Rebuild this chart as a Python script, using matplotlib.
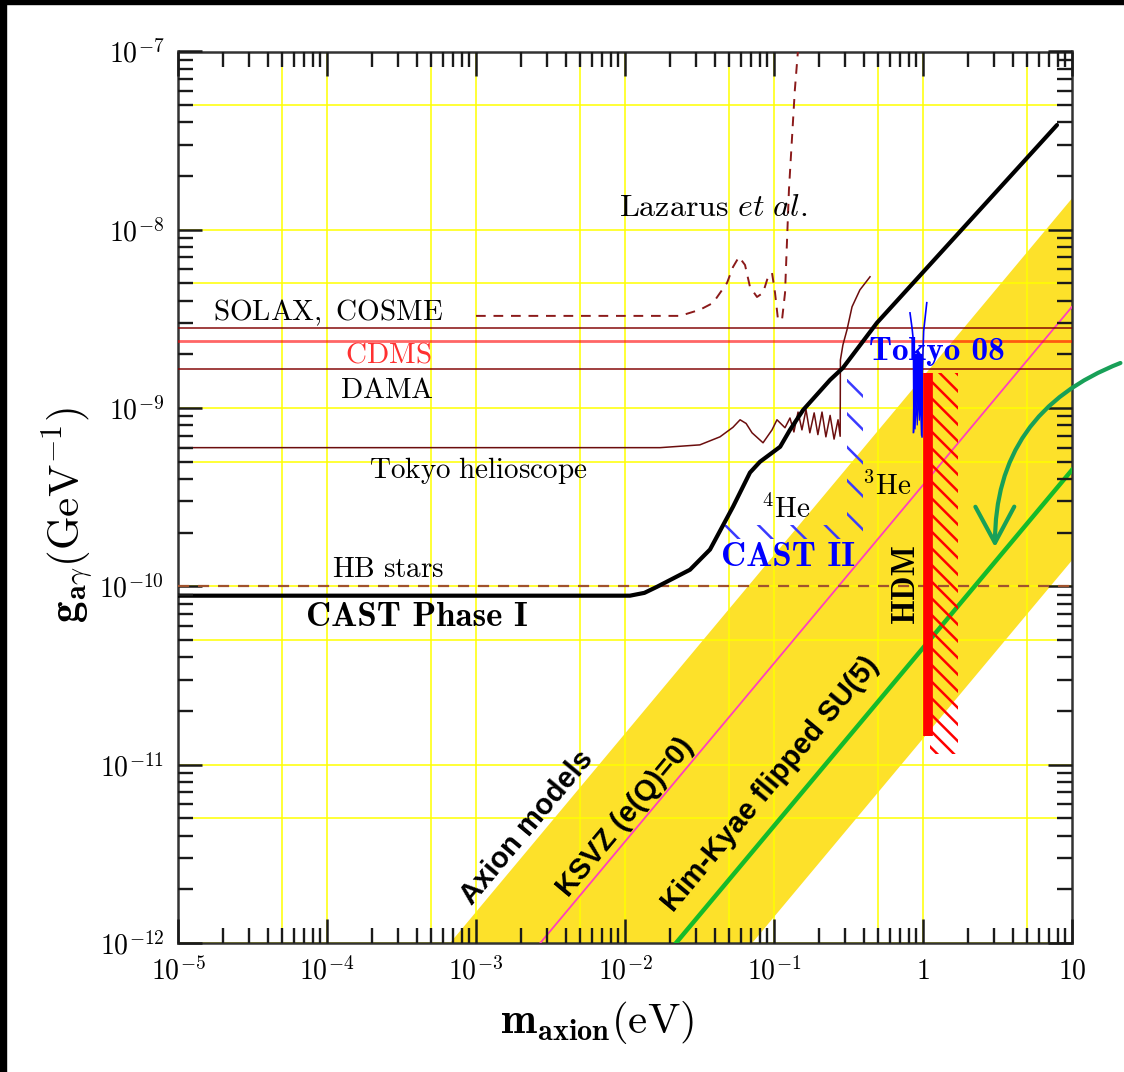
import numpy as np
import matplotlib.pyplot as plt
from matplotlib.patches import Rectangle
from matplotlib.ticker import FixedLocator, NullLocator

plt.rcParams['mathtext.fontset'] = 'cm'
plt.rcParams['hatch.linewidth'] = 1.8

# ---------------- data (m in eV, g in GeV^-1) ----------------
cast1_m = [1e-5, 0.0108, 0.0135, 0.0164, 0.0273, 0.0372, 0.0531, 0.069, 0.0805,
           0.110, 0.128, 0.157, 0.238, 0.290, 0.491, 7.93]
cast1_g = [8.87e-11, 8.87e-11, 9.2e-11, 9.95e-11, 1.24e-10, 1.61e-10, 2.80e-10, 4.35e-10,
           5.00e-10, 6.07e-10, 7.55e-10, 9.77e-10, 1.44e-9, 1.68e-9, 3.01e-9, 3.87e-8]

tokyo_m = [1e-5, 0.0172, 0.0318, 0.0434, 0.0530, 0.0592, 0.0650, 0.0712, 0.0844,
           0.0970, 0.1047, 0.1185, 0.128, 0.136, 0.145, 0.154, 0.164, 0.174, 0.186,
           0.197, 0.210, 0.223, 0.238, 0.253, 0.269, 0.278, 0.279, 0.290, 0.309,
           0.334, 0.377, 0.441]
tokyo_g = [6.0e-10, 6.0e-10, 6.22e-10, 6.9e-10, 7.8e-10, 8.6e-10, 8.2e-10, 7.27e-10,
           6.39e-10, 7.55e-10, 8.6e-10, 7.76e-10, 8.8e-10, 7.35e-10, 9.5e-10, 7.55e-10,
           9.8e-10, 7.27e-10, 9.4e-10, 7.1e-10, 9.5e-10, 6.9e-10, 9.1e-10, 6.7e-10,
           8.6e-10, 6.95e-10, 1.86e-9, 2.26e-9, 2.75e-9, 3.70e-9, 4.6e-9, 5.45e-9]

laz_m = [1e-3, 0.0234, 0.0318, 0.039, 0.0484, 0.0531, 0.0582, 0.0639, 0.069, 0.0769,
         0.0844, 0.0912, 0.097, 0.1016, 0.1064, 0.1132, 0.1186, 0.126, 0.138, 0.146]
laz_g = [3.29e-9, 3.29e-9, 3.56e-9, 3.89e-9, 5.04e-9, 6.19e-9, 7.05e-9, 6.35e-9,
         4.78e-9, 4.2e-9, 4.43e-9, 5.45e-9, 5.73e-9, 4.43e-9, 3.13e-9, 3.13e-9,
         4.43e-9, 1.68e-8, 6.08e-8, 1.1e-7]

solax_g = 2.82e-9
cdms_g = 2.38e-9
dama_g = 1.66e-9
hb_g = 1.0e-10

# axion model band (g proportional to m)
band_m = [6.7e-4, 10, 10, 0.0714]
band_g = [1e-12, 1.5e-8, 1.4e-10, 1e-12]
ksvz_m = [2.7e-3, 10]
ksvz_g = [1e-12, 3.7e-9]
kk_m = [0.022, 10]
kk_g = [1e-12, 4.5e-10]

# hot dark matter bound
hdm_m = 1.08
hdm_g = [1.45e-11, 1.58e-9]
hdm_hatch_m = [1.12, 1.72]
hdm_hatch_g = [1.15e-11, 1.58e-9]

# Tokyo 08
tk08_left_m = [0.818, 0.845, 0.87, 0.872, 0.862]
tk08_left_g = [3.42e-9, 2.8e-9, 2.2e-9, 1.3e-9, 7.3e-10]
tk08_right_m = [1.06, 1.01, 0.99, 0.985]
tk08_right_g = [3.9e-9, 2.7e-9, 1.6e-9, 6.9e-10]
tk08_fill_m = [0.86, 0.865, 0.875, 0.885, 0.90, 0.915, 0.93, 0.945, 0.96, 0.975, 0.985, 0.985, 0.86]
tk08_fill_g = [1.9e-9, 7.3e-10, 1.0e-9, 7.6e-10, 1.1e-9, 8.0e-10, 1.2e-9, 8.5e-10,
               1.1e-9, 7.0e-10, 1.0e-9, 2.0e-9, 2.0e-9]

# CAST II (4He / 3He) hatched limits
c2h_m = [0.0448, 0.333]
c2h_g = [1.85e-10, 2.2e-10]
c2v_m = [0.309, 0.395]
c2v_g = [1.85e-10, 1.45e-9]

xtick_vals = [1e-5, 1e-4, 1e-3, 1e-2, 1e-1, 1, 10]
xtick_labels = [r'$10^{-5}$', r'$10^{-4}$', r'$10^{-3}$', r'$10^{-2}$', r'$10^{-1}$', r'$1$', r'$10$']
ytick_vals = [1e-12, 1e-11, 1e-10, 1e-9, 1e-8, 1e-7]
ytick_labels = [r'$10^{-12}$', r'$10^{-11}$', r'$10^{-10}$', r'$10^{-9}$', r'$10^{-8}$', r'$10^{-7}$']

# ---------------- figure ----------------
W, H = 1124, 1072
fig = plt.figure(figsize=(W / 100, H / 100), dpi=100)
ax = fig.add_axes([178 / W, 1 - 943 / H, (1072 - 178) / W, (943 - 51.5) / H])
ax.set_xscale('log')
ax.set_yscale('log')
ax.set_xlim(1e-5, 10)
ax.set_ylim(1e-12, 1e-7)

# yellow grid at 1x and 5x each decade
for v in np.outer(10.0 ** np.arange(-5, 1), [1, 5]).ravel():
    ax.axvline(v, color='#ffff00', lw=1.1, zorder=1.2)
for v in np.outer(10.0 ** np.arange(-12, -7), [1, 5]).ravel():
    ax.axhline(v, color='#ffff00', lw=1.1, zorder=1.2)

# axion band and model lines
ax.fill(band_m, band_g, color='#fde12a', lw=0, zorder=1)
ax.plot(ksvz_m, ksvz_g, color='#ff3fbf', lw=1.3, zorder=3)
ax.plot(kk_m, kk_g, color='#14bb2a', lw=3.2, zorder=3)

# horizontal limits
ax.axhline(solax_g, color='#800000', alpha=0.75, lw=1.4, zorder=3)
ax.axhline(cdms_g, color='red', alpha=0.6, lw=2.0, zorder=3)
ax.axhline(dama_g, color='#800000', alpha=0.75, lw=1.4, zorder=3)
ax.axhline(hb_g, color='#a0522d', lw=1.6, ls=(0, (5, 4)), zorder=3)

# Lazarus, Tokyo helioscope, CAST I
ax.plot(laz_m, laz_g, color='#8b1a1a', lw=1.4, ls=(0, (5, 4)), zorder=3)
ax.plot(tokyo_m, tokyo_g, color='#6b0d0d', lw=1.1, zorder=3)
ax.plot(cast1_m, cast1_g, color='black', lw=3.0, zorder=4, solid_capstyle='round',
        solid_joinstyle='round')

# CAST II hatched strips
ax.fill_between(c2h_m, c2h_g[0], c2h_g[1], facecolor='none', edgecolor='#3a3aff',
                hatch='\\', lw=0, zorder=3)
ax.fill_between(c2v_m, c2v_g[0], c2v_g[1], facecolor='none', edgecolor='#3a3aff',
                hatch='\\', lw=0, zorder=3)

# HDM
ax.fill_between(hdm_hatch_m, hdm_hatch_g[0], hdm_hatch_g[1], facecolor='none',
                edgecolor='red', hatch='\\\\', lw=0, zorder=3)
ax.plot([hdm_m, hdm_m], hdm_g, color='red', lw=7, solid_capstyle='butt', zorder=4)

# Tokyo 08
ax.fill(tk08_fill_m, tk08_fill_g, color='blue', lw=0.8, zorder=3)
ax.plot(tk08_left_m, tk08_left_g, color='blue', lw=1.2, zorder=3)
ax.plot(tk08_right_m, tk08_right_g, color='blue', lw=1.2, zorder=3)

# ---------------- text ----------------
fs = 21
ax.text(0.039, 1.34e-8, r'$\mathrm{Lazarus}\ \mathit{et\ al.}$', fontsize=23, ha='center', va='center')
ax.text(1.02e-4, 3.42e-9, r'$\mathrm{SOLAX,\ COSME}$', fontsize=fs, ha='center', va='center')
ax.text(2.57e-4, 2.01e-9, r'$\mathrm{CDMS}$', fontsize=fs, color='#ff3030', ha='center', va='center')
ax.text(2.53e-4, 1.27e-9, r'$\mathrm{DAMA}$', fontsize=fs, ha='center', va='center')
ax.text(1.03e-3, 4.46e-10, r'$\mathrm{Tokyo\ helioscope}$', fontsize=fs, ha='center', va='center')
ax.text(2.57e-4, 1.26e-10, r'$\mathrm{HB\ stars}$', fontsize=fs, ha='center', va='center')
ax.text(0.12, 2.69e-10, r'$^{4}\mathrm{He}$', fontsize=fs, ha='center', va='center')
ax.text(0.573, 3.62e-10, r'$^{3}\mathrm{He}$', fontsize=fs, ha='center', va='center')

bold = dict(family='cmb10', ha='center', va='center')
ax.text(4.02e-4, 6.68e-11, 'CAST Phase I', fontsize=25, **bold)
ax.text(0.124, 1.45e-10, 'CAST II', fontsize=25, color='blue', **bold)
ax.text(1.24, 2.09e-9, 'Tokyo 08', fontsize=24, color='blue', zorder=5, **bold)
ax.text(0.757, 1.05e-10, 'HDM', fontsize=23, rotation=90, **bold)

sans = dict(family='Liberation Sans', weight='bold', fontsize=21, rotation=50.2,
            rotation_mode='anchor', ha='center', va='center')
ax.text(2.2e-3, 4.45e-12, 'Axion models', **sans)
ax.text(0.01, 5.05e-12, 'KSVZ (e(Q)=0)', **sans)
ax.text(0.094, 7.73e-12, 'Kim-Kyae flipped SU(5)', **sans)

# ---------------- axes styling ----------------
ax.set_axisbelow(False)
ax.xaxis.set_major_locator(FixedLocator(xtick_vals))
ax.yaxis.set_major_locator(FixedLocator(ytick_vals))
ax.set_xticklabels(xtick_labels)
ax.set_yticklabels(ytick_labels)
ax.xaxis.set_minor_locator(NullLocator())
ax.yaxis.set_minor_locator(NullLocator())
ax.set_xlim(1e-5, 10)
ax.set_ylim(1e-12, 1e-7)
ax.tick_params(which='major', direction='in', top=True, right=True, color='#1a1a1a',
               length=17, width=1.8, labelsize=20, pad=10)
for s in ax.spines.values():
    s.set_color('#333333')
    s.set_linewidth(1.8)

# minor ticks drawn as short lines in axes-fraction units on all four sides
minor_x = np.outer(10.0 ** np.arange(-5, 1), np.arange(2, 10)).ravel()
minor_y = np.outer(10.0 ** np.arange(-12, -7), np.arange(2, 10)).ravel()
tl_x = 15 / 891.5
tl_y = 15 / 894
tick_kw = dict(color='#1a1a1a', lw=1.7, zorder=5, clip_on=False)
ax.vlines(minor_x, 0, tl_x, transform=ax.get_xaxis_transform(), **tick_kw)
ax.vlines(minor_x, 1 - tl_x, 1, transform=ax.get_xaxis_transform(), **tick_kw)
ax.hlines(minor_y, 0, tl_y, transform=ax.get_yaxis_transform(), **tick_kw)
ax.hlines(minor_y, 1 - tl_y, 1, transform=ax.get_yaxis_transform(), **tick_kw)
ax.set_xlim(1e-5, 10)
ax.set_ylim(1e-12, 1e-7)

fig.text(597 / W, 1 - 1022 / H, r'$\mathbf{m}_{\mathbf{axion}}(\mathrm{eV})$',
         fontsize=31, ha='center', va='center')
fig.text(68 / W, 1 - 515 / H, r'$\mathbf{g}_{\mathbf{a}\gamma}(\mathrm{GeV}^{-1})$',
         fontsize=31, rotation=90, ha='center', va='center')

# hand-drawn green arrow
ax.annotate('', xy=(995 / W, 1 - 550 / H), xytext=(1123 / W, 1 - 362 / H),
            xycoords='figure fraction', textcoords='figure fraction',
            arrowprops=dict(arrowstyle='->,head_length=2.6,head_width=1.4',
                            connectionstyle='arc3,rad=0.35', color='#18a058', lw=3.0),
            annotation_clip=False, zorder=6)

# dark screenshot border (top and left)
fig.add_artist(Rectangle((0, 1 - 4 / H), 1, 4 / H, transform=fig.transFigure, color='black'))
fig.add_artist(Rectangle((0, 0), 6 / W, 1, transform=fig.transFigure, color='black'))

fig.savefig('out.png', dpi=100)
